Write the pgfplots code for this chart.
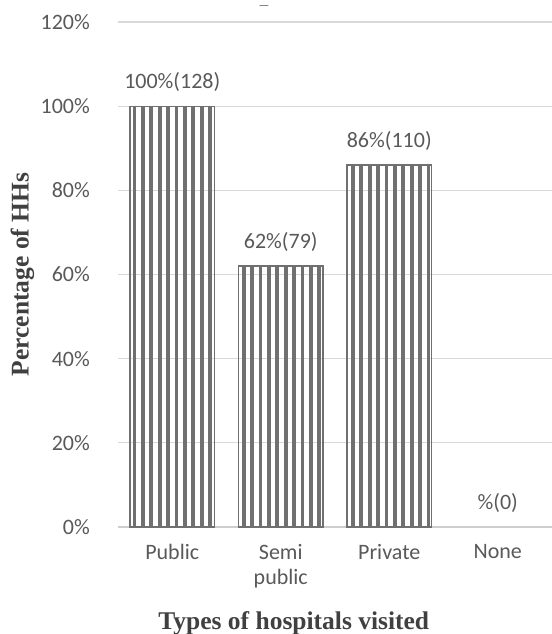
\documentclass[border=0pt]{standalone}
\usepackage{fontspec}
\setmainfont{Carlito}
\newfontfamily\serifb{Liberation Serif}
\usepackage{pgfplots}
\pgfplotsset{compat=1.18}
\usetikzlibrary{patterns.meta}
\definecolor{txt}{HTML}{595959}
\definecolor{ttl}{HTML}{404040}
\definecolor{grid}{HTML}{D9D9D9}
\definecolor{barc}{HTML}{707070}
\begin{document}
\begin{tikzpicture}
\begin{axis}[
  at={(118bp,107bp)}, anchor=south west,
  scale only axis, width=434bp, height=505bp,
  xmin=-0.5, xmax=3.5, ymin=0, ymax=120,
  xtick={0,1,2,3},
  xticklabels={Public,{Semi\\public},Private,None},
  ytick={0,20,40,60,80,100,120},
  yticklabel={\pgfmathprintnumber{\tick}\%},
  /pgf/number format/assume math mode=true,
  major tick length=0pt,
  axis x line*=bottom, axis y line*=left,
  x axis line style={draw=grid!80!black!60, line width=1.2bp, -},
  y axis line style={draw=none},
  ymajorgrids, grid style={draw=grid, line width=1.2bp},
  tick label style={font=\fontsize{22bp}{25bp}\selectfont, text=txt},
  yticklabel style={anchor=east, inner sep=0pt, xshift=-28bp},
  xticklabel style={anchor=north, inner sep=0pt, yshift=-17bp, align=center},
  ylabel={Percentage of HHs},
  xlabel={Types of hospitals visited},
  label style={font=\serifb\bfseries\fontsize{25.5bp}{28bp}\selectfont, text=ttl},
  ylabel style={at={(axis description cs:-0.22,0.5)}, anchor=center},
  xlabel style={at={(axis description cs:0.405,-0.19)}, anchor=center},
  ybar, bar width=0.78, bar shift=0pt,
  nodes near coords,
  point meta=explicit symbolic,
  every node near coord/.append style={font=\fontsize{22bp}{25bp}\selectfont, text=txt, anchor=base, inner sep=0pt, yshift=18bp},
  clip=false,
]
\addplot[draw=barc, line width=1.2bp, pattern={Lines[angle=90, distance=8.4bp, line width=3.8bp]}, pattern color=barc]
  coordinates {(0,100) [100\%(128)] (1,62) [62\%(79)] (2,86) [86\%(110)]};
\addplot[draw=none, fill=none]
  coordinates {(3,0) [\%(0)]};
\end{axis}
\node[anchor=base, text=txt, font=\fontsize{12bp}{14bp}\selectfont, inner sep=0pt] at (264bp,624bp) {—};
\pgfresetboundingbox
\path (0,0) rectangle (552bp,634bp);
\end{tikzpicture}
\end{document}
